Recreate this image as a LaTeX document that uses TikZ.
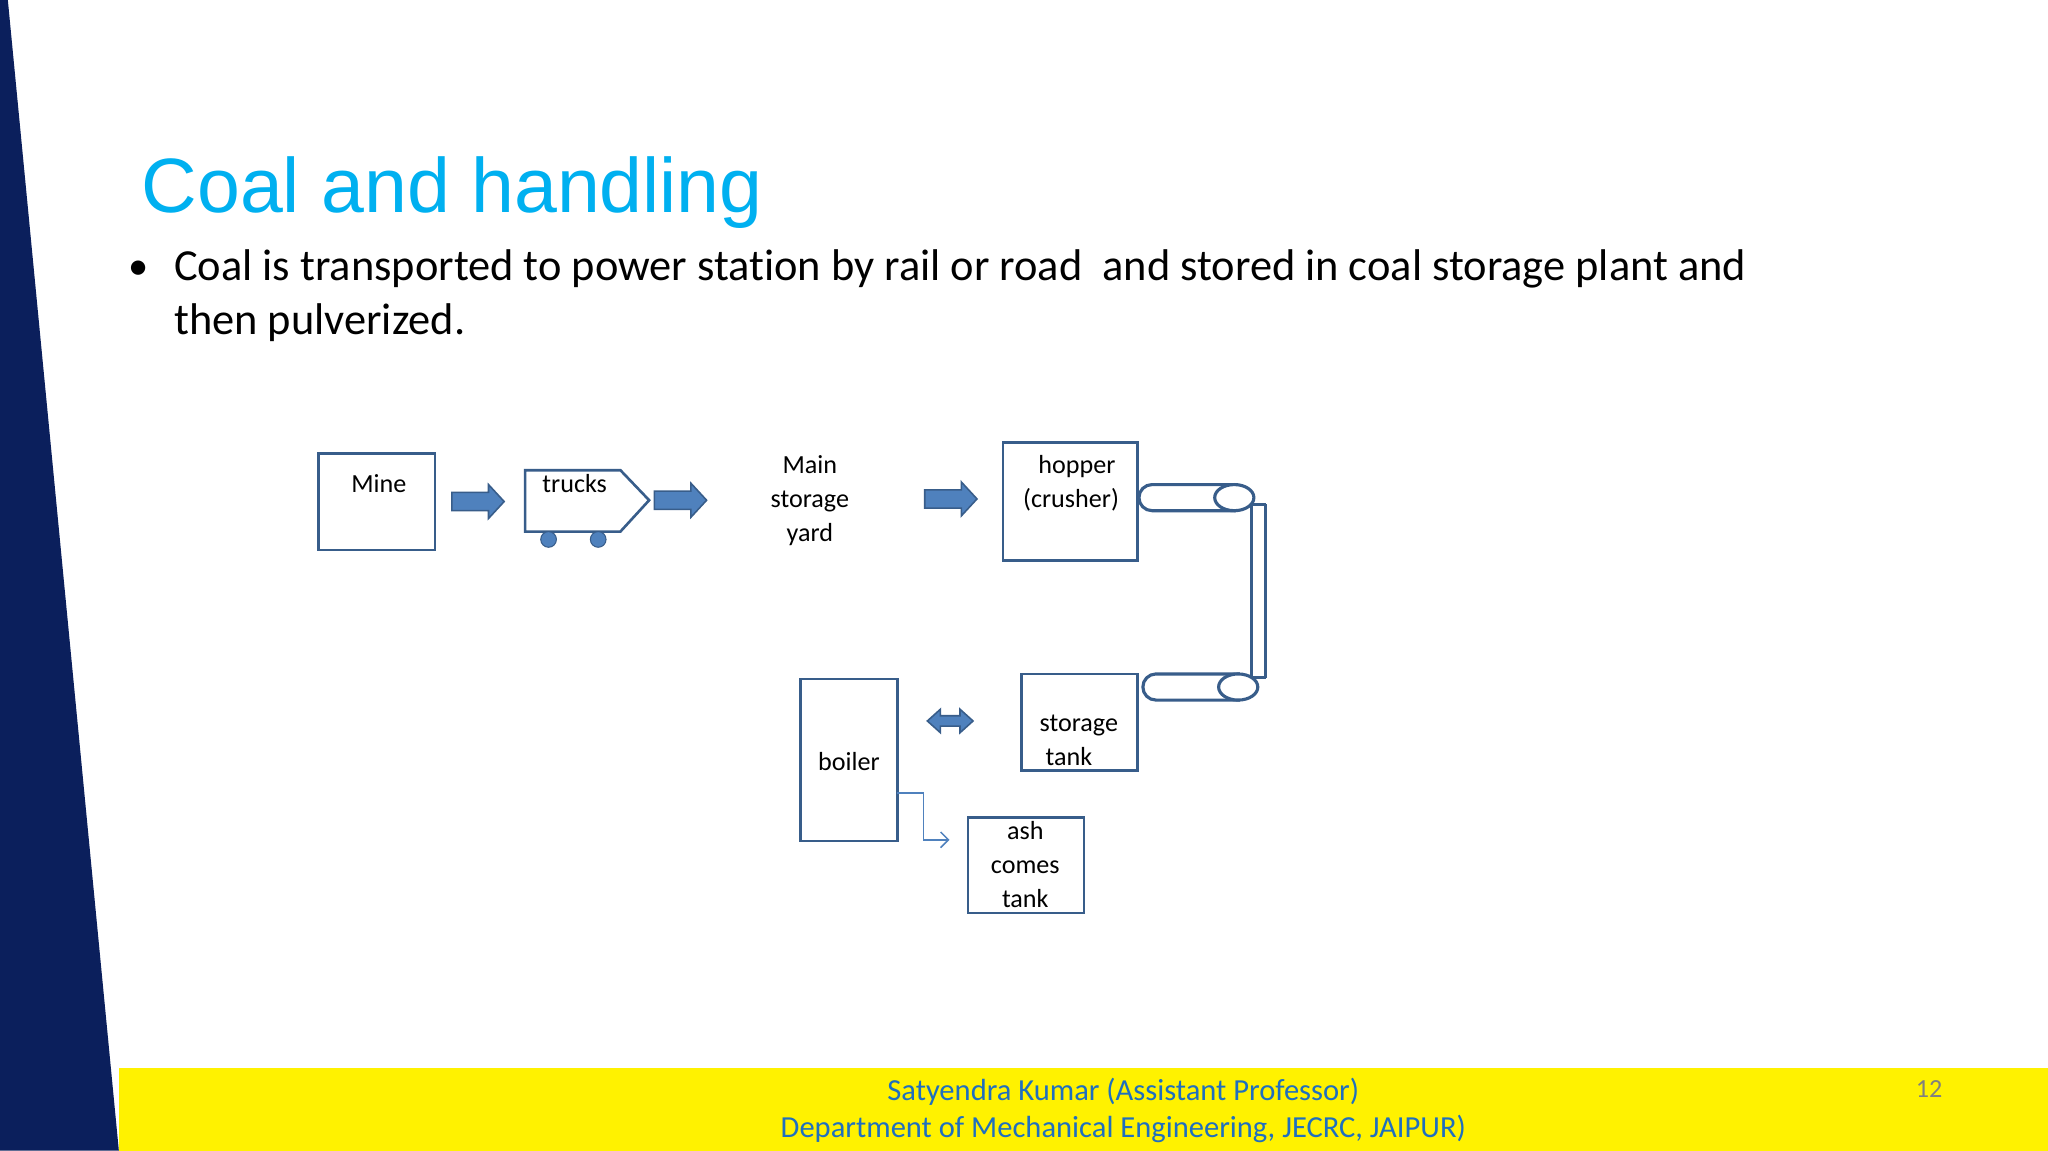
\documentclass[tikz,border=0pt]{standalone}
\usepackage{fontspec}
\setmainfont{Carlito}[Ligatures=NoCommon]
\newfontfamily\titlefont{Liberation Sans}
\usetikzlibrary{arrows.meta}
\definecolor{navy}{HTML}{0B1F5C}
\definecolor{edge}{HTML}{385D8A}
\definecolor{fillb}{HTML}{4F81BD}
\definecolor{titlec}{HTML}{00B0F0}
\definecolor{footc}{HTML}{1F6FBF}
\tikzset{
  box/.style={draw=edge,line width=1pt,fill=white},
  lbl/.style={font=\fontsize{10}{13}\selectfont,align=center,inner sep=0},
  barrow/.style={draw=edge,fill=fillb,line width=0.6pt},
  conv/.style={draw=edge,line width=1.2pt,fill=white}
}
\begin{document}
\begin{tikzpicture}[x=0.5pt,y=-0.5pt]
\useasboundingbox (0,0) rectangle (1568,881);
\fill[white] (0,0) rectangle (1568,881);
\fill[navy] (0,0) -- (6,0) -- (91,881) -- (0,881) -- cycle;
\fill[yellow] (91,818) rectangle (1568,881);
\node[text=footc,font=\fontsize{11.7}{13}\selectfont] (f1) at (860,836) {Satyendra Kumar (Assistant Professor)};
\node[text=footc,font=\fontsize{11.7}{13}\selectfont] (f2) at (860,864) {Department of Mechanical Engineering, JECRC, JAIPUR)};
\node[text=gray,font=\fontsize{10}{12}\selectfont] (pg) at (1477,834) {12};
\node[anchor=base west,text=titlec,font=\titlefont\fontsize{29.5}{36}\selectfont,inner sep=0] (title) at (108,163) {Coal and handling};
\node[anchor=base west,font=\fontsize{15.5}{20}\selectfont,inner sep=0] (b) at (98,214) {•};
\node[anchor=base west,font=\fontsize{17}{20}\selectfont,inner sep=0] (l1) at (133,215) {Coal is transported to power station by rail or road\ \ and stored in coal storage plant and};
\node[anchor=base west,font=\fontsize{17}{20}\selectfont,inner sep=0] (l2) at (133,256) {then\ pulverized.};
% Mine
\draw[box] (244,347) rectangle (333,421);
\node[lbl] (mine) at (290,370) {Mine};
\draw[barrow] (346,377) -- (374,377) -- (374,371) -- (386,384) -- (374,397) -- (374,391) -- (346,391) -- cycle;
% trucks
\draw[box] (402,360) -- (475,360) -- (497,383) -- (475,407) -- (402,407) -- cycle;
\fill[fillb,draw=edge] (420,413) circle (6);
\fill[fillb,draw=edge] (458,413) circle (6);
\node[lbl] (trucks) at (440,370) {trucks};
\draw[barrow] (501,376) -- (529,376) -- (529,370) -- (541,383) -- (529,396) -- (529,390) -- (501,390) -- cycle;
\node[lbl] (yard) at (620,383) {Main\\storage\\yard};
\draw[barrow] (708,375) -- (736,375) -- (736,369) -- (748,382) -- (736,395) -- (736,389) -- (708,389) -- cycle;
% hopper
\draw[box] (768,339) rectangle (871,429);
\node[lbl] (hopper) at (820,370) {\ \ hopper\\(crusher)};
% conveyors
\draw[edge,line width=1.2pt] (958,386) -- (958,519) (969,386) -- (969,519) (958,386) -- (969,386) (958,519) -- (969,519);
\draw[conv] (945,371) -- (882,371) arc[start angle=90,end angle=270,radius=5pt] -- (945,391) -- cycle;
\draw[conv] (945,381) ellipse (15 and 10);
\draw[conv] (948,516) -- (885,516) arc[start angle=90,end angle=270,radius=5pt] -- (948,536) -- cycle;
\draw[conv] (948,526) ellipse (15 and 10);
% storage tank
\draw[box] (782,516) rectangle (871,590);
\node[lbl,align=left] (stor) at (826,567) {storage\\\ tank};
% double arrow
\draw[barrow] (710,552) -- (720,543) -- (720,548) -- (735,548) -- (735,543) -- (745,552) -- (735,561) -- (735,556) -- (720,556) -- (720,561) -- cycle;
% boiler
\draw[box] (613,520) rectangle (687,644);
\node[lbl] (boiler) at (650,583) {boiler};
% ash
\draw[box] (741,626) rectangle (830,699);
\node[lbl] (ash) at (785,662) {ash\\comes\\tank};
\coordinate (bo) at (687,607);
\coordinate (ai) at (727,643);
\draw[fillb,line width=0.6pt,-{Straight Barb[length=3pt]}] (bo) -- (707,607) -- (707,643) -- (ai);
\end{tikzpicture}
\end{document}
